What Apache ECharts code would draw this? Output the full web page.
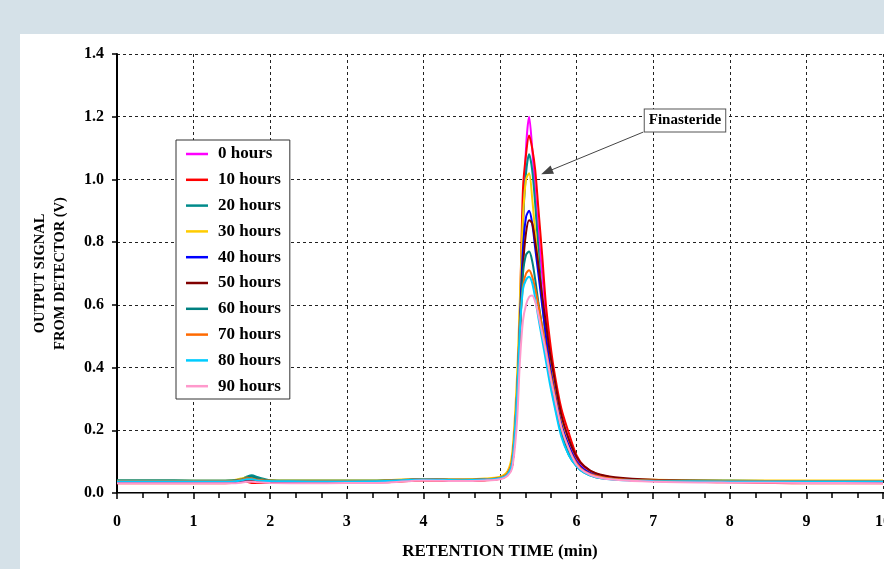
<!DOCTYPE html>
<html><head><meta charset="utf-8">
<script src="https://cdn.jsdelivr.net/npm/echarts@6/dist/echarts.min.js"></script>
<style>
html,body{margin:0;padding:0;width:884px;height:569px;overflow:hidden;background:#d5e1e8;}
#panel{position:absolute;left:20px;top:34px;width:864px;height:535px;background:#fff;}
#chart{position:absolute;left:0;top:0;width:884px;height:569px;}
</style></head>
<body>
<div id="panel"></div>
<div id="chart"></div>
<script>
// Retention time grid (min)
const retentionTime = [0,0.5,1,1.5,1.62,1.7,1.76,1.84,2,2.5,3,3.5,4,4.5,4.8,5,5.1,5.16,5.22,5.26,5.3,5.34,5.38,5.42,5.46,5.5,5.55,5.6,5.65,5.7,5.8,5.9,6,6.1,6.25,6.5,7,8,9,10];
const seriesNames = ['0 hours','10 hours','20 hours','30 hours','40 hours','50 hours','60 hours','70 hours','80 hours','90 hours'];
const seriesColors = ['#ff00ff','#ff0000','#008b8b','#ffcc00','#0000ff','#800000','#008080','#ff6a00','#00ccff','#ff99cc'];
const h0  = [0.036,0.036,0.036,0.036,0.036,0.037,0.037,0.036,0.036,0.036,0.037,0.038,0.042,0.040,0.042,0.046,0.06,0.09,0.28,0.52,0.84,1.10,1.20,1.10,0.96,0.84,0.70,0.57,0.47,0.38,0.25,0.17,0.11,0.08,0.06,0.047,0.04,0.037,0.036,0.035];
const h10 = [0.031,0.031,0.031,0.032,0.04,0.036,0.032,0.032,0.032,0.032,0.033,0.034,0.04,0.038,0.040,0.045,0.058,0.09,0.28,0.58,0.97,1.08,1.14,1.10,1.03,0.91,0.76,0.60,0.49,0.40,0.27,0.19,0.12,0.085,0.062,0.048,0.04,0.034,0.031,0.031];
const h20 = [0.040,0.040,0.039,0.040,0.044,0.053,0.057,0.05,0.041,0.039,0.039,0.040,0.044,0.042,0.044,0.048,0.062,0.10,0.31,0.56,0.86,1.02,1.08,1.03,0.92,0.78,0.62,0.49,0.40,0.32,0.20,0.13,0.09,0.068,0.052,0.044,0.04,0.039,0.038,0.038];
const h30 = [0.039,0.039,0.039,0.04,0.046,0.05,0.049,0.045,0.041,0.040,0.040,0.041,0.045,0.043,0.046,0.052,0.07,0.13,0.36,0.62,0.88,1.00,1.02,0.94,0.83,0.73,0.61,0.50,0.42,0.35,0.23,0.15,0.10,0.075,0.058,0.047,0.042,0.040,0.040,0.040];
const h40 = [0.035,0.035,0.035,0.035,0.037,0.04,0.04,0.037,0.036,0.035,0.036,0.037,0.043,0.040,0.043,0.047,0.062,0.10,0.30,0.55,0.78,0.88,0.90,0.86,0.78,0.70,0.60,0.50,0.41,0.34,0.22,0.15,0.10,0.075,0.057,0.045,0.038,0.035,0.035,0.035];
const h50 = [0.037,0.037,0.037,0.037,0.039,0.042,0.041,0.039,0.037,0.037,0.037,0.038,0.043,0.041,0.043,0.047,0.06,0.09,0.27,0.50,0.72,0.83,0.87,0.86,0.80,0.73,0.63,0.54,0.45,0.38,0.25,0.17,0.115,0.085,0.063,0.05,0.042,0.038,0.037,0.037];
const h60 = [0.040,0.040,0.039,0.040,0.043,0.05,0.052,0.046,0.04,0.039,0.039,0.040,0.044,0.042,0.044,0.048,0.062,0.10,0.30,0.52,0.70,0.76,0.77,0.74,0.68,0.61,0.53,0.45,0.37,0.30,0.19,0.12,0.085,0.065,0.05,0.043,0.04,0.039,0.038,0.038];
const h70 = [0.038,0.038,0.038,0.038,0.042,0.047,0.046,0.042,0.039,0.038,0.038,0.039,0.044,0.042,0.044,0.049,0.064,0.11,0.31,0.53,0.66,0.70,0.71,0.69,0.65,0.60,0.53,0.46,0.39,0.33,0.21,0.14,0.095,0.07,0.055,0.045,0.04,0.038,0.038,0.038];
const h80 = [0.037,0.037,0.037,0.037,0.04,0.044,0.044,0.04,0.038,0.037,0.037,0.038,0.043,0.041,0.043,0.047,0.06,0.10,0.30,0.52,0.65,0.68,0.69,0.67,0.62,0.56,0.49,0.42,0.35,0.29,0.18,0.12,0.085,0.065,0.05,0.042,0.038,0.037,0.037,0.037];
const h90 = [0.031,0.031,0.031,0.031,0.033,0.036,0.036,0.034,0.032,0.031,0.032,0.033,0.04,0.038,0.040,0.044,0.055,0.08,0.22,0.42,0.55,0.60,0.625,0.63,0.61,0.57,0.51,0.45,0.38,0.32,0.21,0.14,0.09,0.068,0.052,0.042,0.036,0.033,0.032,0.031];
const signals = [h0,h10,h20,h30,h40,h50,h60,h70,h80,h90];
// Annotation: label position and arrow (data coords)
const annotationText = 'Finasteride';
const annotationLabelAt = [7.415, 1.188];
const arrowFrom = [6.87, 1.151];
const arrowTo = [5.61, 1.024];

const FONT = '"Liberation Serif","Times New Roman",serif';
const chart = echarts.init(document.getElementById('chart'), null, {renderer:'canvas'});

const series = signals.map((vals, i) => ({
  name: seriesNames[i],
  type: 'line',
  data: retentionTime.map((t, k) => [t, vals[k]]),
  symbol: 'none',
  smooth: 0.3,
  lineStyle: {color: seriesColors[i], width: 2},
  itemStyle: {color: seriesColors[i]},
  z: 2 + i
}));
series.push({
  type: 'line', data: [], silent: true, z: 20,
  markLine: {
    silent: true, symbol: ['none','triangle'], symbolSize: [9, 12],
    lineStyle: {color: '#444', width: 1, type: 'solid'},
    label: {show: false},
    data: [[{coord: arrowFrom}, {coord: arrowTo}]]
  },
  markPoint: {
    silent: true, symbol: 'rect', symbolSize: 1, itemStyle: {color: 'rgba(0,0,0,0)'},
    label: {show: true, formatter: annotationText, fontFamily: FONT, fontWeight: 'bold', fontSize: 15,
      color: '#000', backgroundColor: '#fff', borderColor: '#555', borderWidth: 1,
      padding: [4, 4, 3, 4], position: 'inside'},
    data: [{coord: annotationLabelAt}]
  }
});

chart.setOption({
  animation: false,
  backgroundColor: 'transparent',
  grid: {left: 117, right: 1, top: 54, bottom: 76, containLabel: false, outerBoundsMode: 'none'},
  legend: {
    orient: 'vertical', left: 176, top: 140,
    backgroundColor: '#fff', borderColor: '#333', borderWidth: 1,
    padding: [5.5, 9, 4.3, 10],
    icon: 'rect',
    itemWidth: 22, itemHeight: 2.5, itemGap: 8.8,
    textStyle: {fontFamily: FONT, fontWeight: 'bold', fontSize: 17, lineHeight: 17, color: '#000', padding: [0,0,0,5]},
    data: seriesNames
  },
  xAxis: [{
    type: 'value', min: 0, max: 10, interval: 1,
    name: 'RETENTION TIME (min)', nameLocation: 'middle', nameGap: 50,
    nameTextStyle: {fontFamily: FONT, fontWeight: 'bold', fontSize: 17, color: '#000'},
    axisLine: {show: true, onZero: false, lineStyle: {color: '#000', width: 2}},
    axisTick: {show: true, inside: false, length: 6, lineStyle: {color: '#000', width: 1.5}},
    minorTick: {show: true, splitNumber: 3, length: 5, lineStyle: {color: '#000', width: 1.5}},
    axisLabel: {margin: 21, fontFamily: FONT, fontWeight: 'bold', fontSize: 16, color: '#000'},
    splitLine: {show: true, lineStyle: {color: '#222', width: 1, type: [3, 3]}}
  }, {
    type: 'value', min: 0, max: 10, position: 'top',
    axisLine: {show: true, lineStyle: {color: '#777', width: 1}},
    axisTick: {show: false}, axisLabel: {show: false}, splitLine: {show: false}
  }],
  yAxis: {
    type: 'value', min: 0, max: 1.4, interval: 0.2,
    name: 'OUTPUT SIGNAL\nFROM DETECTOR (V)', nameLocation: 'middle', nameGap: 47, nameRotate: 90,
    nameTextStyle: {fontFamily: FONT, fontWeight: 'bold', fontSize: 14.5, color: '#000', lineHeight: 20},
    axisLine: {show: true, lineStyle: {color: '#000', width: 2}},
    axisTick: {show: true, inside: false, length: 5, lineStyle: {color: '#000', width: 1.5}},
    axisLabel: {margin: 13, fontFamily: FONT, fontWeight: 'bold', fontSize: 16, color: '#000',
      formatter: v => v.toFixed(1)},
    splitLine: {show: true, lineStyle: {color: '#222', width: 1, type: [3, 3]}}
  },
  series: series
});
</script>
</body></html>
